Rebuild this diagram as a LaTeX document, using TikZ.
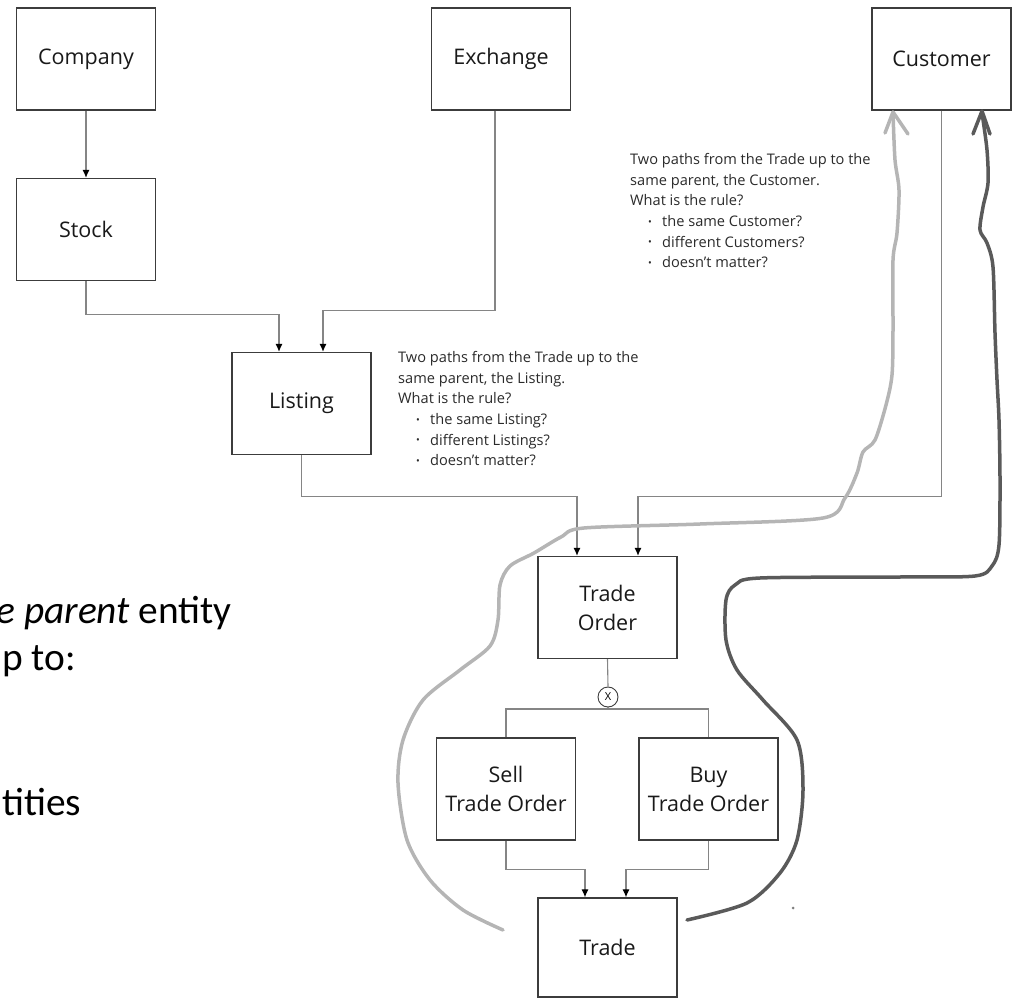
\documentclass[tikz,border=0pt]{standalone}
\usepackage{fontspec}
\setmainfont{Open Sans}
\newfontfamily\calib{Carlito}
\usetikzlibrary{arrows.meta}
\definecolor{boxline}{HTML}{3C3C3C}
\definecolor{connline}{HTML}{858585}
\definecolor{penlight}{HTML}{B5B5B5}
\definecolor{pendark}{HTML}{5A5A5A}
\definecolor{notetext}{HTML}{2A2A2A}
\newcommand\notebul{\hspace*{18pt}\makebox[14pt][l]{\fontsize{10}{10}\selectfont\raisebox{1.2pt}{\textbullet}}}
\begin{document}
\begin{tikzpicture}[x=1pt,y=-1pt,
 entity/.style={draw=boxline, line width=1.3pt, minimum width=139pt, minimum height=102pt, inner sep=0pt, align=center, font=\fontsize{21.5}{29}\selectfont, text=black!90},
 conn/.style={draw=connline, line width=1.1pt, -{Latex[length=8pt,width=7pt,color=black]}},
 plainconn/.style={draw=connline, line width=1.1pt},
 note/.style={anchor=north west, inner sep=0pt, align=left, font=\fontsize{14.6}{20.7}\selectfont, text=notetext},
 pen/.style={line width=3.5pt, line cap=round, line join=round},
 bigtext/.style={inner sep=0pt, font=\calib\fontsize{39.4}{46}\selectfont}
]
\useasboundingbox (0,0) rectangle (1015,1000);
\clip (0,0) rectangle (1015,1000);

% entities
\node[entity] (company) at (86,59) {Company};
\node[entity] (stock) at (86,229.5) {Stock};
\node[entity] (exchange) at (501,59) {Exchange};
\node[entity] (customer) at (941.5,59) {Customer};
\node[entity] (listing) at (301.5,403.5) {Listing};
\node[entity] (tradeorder) at (607.5,607.5) {Trade\\Order};
\node[entity] (sell) at (506,789) {Sell\\Trade Order};
\node[entity] (buy) at (708.5,789) {Buy\\Trade Order};
\node[entity, minimum height=99pt] (trade) at (607.5,947.5) {Trade};
\node[circle, draw=boxline, line width=0.9pt, minimum size=20pt, inner sep=0pt, font=\fontsize{11}{11}\selectfont] (xc) at (608,697) {X};

% connectors
\draw[conn] (company.south) -- (stock.north);
\draw[conn] (stock.south) -- ++(0,33) -| ([xshift=-22.5pt]listing.north);
\draw[conn] ([xshift=-6pt]exchange.south) -- ++(0,200) -| ([xshift=21.5pt]listing.north);
\draw[conn] (listing.south) -- ++(0,41) -| ([xshift=-30.5pt]tradeorder.north);
\draw[conn] (customer.south) -- ++(0,386) -| ([xshift=30.5pt]tradeorder.north);
\draw[plainconn] (tradeorder.south) -- (xc.north);
\coordinate (bar) at (608,709);
\draw[plainconn] (xc.south) -- (bar);
\draw[plainconn] (sell.north) -- (506,709) -- (708.5,709) -- (buy.north);
\draw[conn] (sell.south) -- ++(0,29) -| ([xshift=-22.5pt]trade.north);
\draw[conn] (buy.south) -- ++(0,29) -| ([xshift=18.5pt]trade.north);

% notes
\node[note] (noteListing) at (398,351) {Two paths from the Trade up to the\\same parent, the Listing.\\What is the rule?\\\notebul the same Listing?\\\notebul different Listings?\\\notebul doesn't matter?};
\node[note] (noteCustomer) at (630,153) {Two paths from the Trade up to the\\same parent, the Customer.\\What is the rule?\\\notebul the same Customer?\\\notebul different Customers?\\\notebul doesn't matter?};

% left slide text (cut off)
\node[bigtext, anchor=base east] (t1) at (232,623) {\textit{e parent} entity};
\node[bigtext, anchor=base west] (t2) at (2,670) {p to:};
\node[bigtext, anchor=base west] (t3) at (2,815) {tities};

% hand-drawn light path
\draw[pen, penlight] plot[smooth, tension=0.5] coordinates {(503,930) (463,910) (430,880) (407,840) (398,783) (403,740) (423,700) (460,670) (490,646) (498,620) (500,585) (510,566) (534,553) (561,537) (584,528) (700,524) (823,518) (845,498) (857,473) (863,452) (875,440) (886,405) (892,375) (893,330) (893,260) (897,233) (899,190) (895,160) (893,113)};
\draw[pen, penlight] (885,133) -- (893,112) -- (908,134);

% hand-drawn dark path
\draw[pen, pendark] plot[smooth, tension=0.5] coordinates {(687,920) (747,903) (780,873) (797,840) (803,790) (797,740) (763,700) (737,670) (726,640) (726,600) (735,585) (760,578) (900,577) (975,576) (992,566) (999,545) (1000,480) (999,420) (997,380) (995,333) (993,267) (987,243) (980,230) (983,207) (988,183) (987,150) (982,113)};
\draw[pen, pendark] (973,134) -- (982,111) -- (990,134);

\fill[gray] (793,908) circle (1.5);
\end{tikzpicture}
\end{document}
